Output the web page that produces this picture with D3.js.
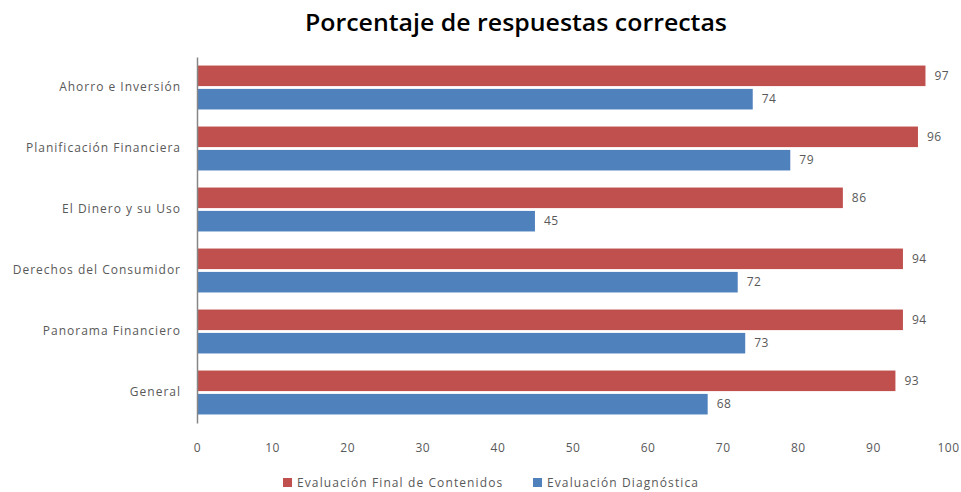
<!DOCTYPE html>
<html>
<head>
<meta charset="utf-8">
<script src="https://cdn.jsdelivr.net/npm/d3@7"></script>
<style>
  body { margin: 0; background: #fff; }
  text { font-family: "Open Sans", "Liberation Sans", sans-serif; }
</style>
</head>
<body>
<div id="chart"></div>
<script>
// categories, top to bottom
var categories = ["Ahorro e Inversión", "Planificación Financiera", "El Dinero y su Uso",
                  "Derechos del Consumidor", "Panorama Financiero", "General"];
var finalValues = [97, 96, 86, 94, 94, 93];
var diagValues = [74, 79, 45, 72, 73, 68];
var seriesNames = ["Evaluación Final de Contenidos", "Evaluación Diagnóstica"];
var xTicks = [0, 10, 20, 30, 40, 50, 60, 70, 80, 90, 100];

var w = 961, h = 492;
var colors = ["#C0504D", "#4F81BD"];

var svg = d3.select("#chart").append("svg")
    .attr("width", w)
    .attr("height", h);

var xScale = d3.scaleLinear().domain([0, 100]).range([197, 948]);
var yScale = d3.scaleBand().domain(categories).range([57, 423]).paddingInner(0.28).paddingOuter(0.14);
var inner = d3.scaleBand().domain([0, 1]).range([0, yScale.bandwidth()]).paddingInner(0.12);

// title
svg.append("text")
    .attr("x", 516)
    .attr("y", 31)
    .attr("text-anchor", "middle")
    .attr("textLength", 422)
    .attr("lengthAdjust", "spacingAndGlyphs")
    .style("font-size", "23px")
    .style("font-weight", "600")
    .style("fill", "#000")
    .text("Porcentaje de respuestas correctas");

var series = [finalValues, diagValues];

series.forEach(function(vals, s) {
    var g = svg.append("g");
    g.selectAll("rect")
        .data(vals)
        .enter()
        .append("rect")
        .attr("x", xScale(0))
        .attr("y", function(d, i) { return yScale(categories[i]) + inner(s); })
        .attr("width", function(d) { return xScale(d) - xScale(0); })
        .attr("height", inner.bandwidth())
        .style("fill", colors[s]);

    g.selectAll("text")
        .data(vals)
        .enter()
        .append("text")
        .attr("x", function(d) { return xScale(d) + 9; })
        .attr("y", function(d, i) { return yScale(categories[i]) + inner(s) + inner.bandwidth() / 2; })
        .attr("dy", "0.35em")
        .style("font-size", "12px")
        .style("letter-spacing", "0.5px")
        .style("fill", "#595959")
        .text(function(d) { return d; });
});

// y axis
var yAxis = d3.axisLeft(yScale).tickSize(0).tickPadding(16);
var yg = svg.append("g")
    .attr("transform", "translate(" + xScale(0) + ",0)")
    .call(yAxis);
yg.select(".domain").attr("stroke", "#868686").attr("stroke-width", 1.5);
yg.selectAll("text")
    .style("font-size", "12px")
    .style("letter-spacing", "1px")
    .style("fill", "#595959")
    .style("font-family", "'Open Sans', sans-serif");

// x axis labels only
var xAxis = d3.axisBottom(xScale).tickValues(xTicks).tickSize(0).tickPadding(0);
var xg = svg.append("g")
    .attr("transform", "translate(0,443)")
    .call(xAxis);
xg.select(".domain").remove();
xg.selectAll("text")
    .style("font-size", "12px")
    .style("letter-spacing", "0.5px")
    .style("fill", "#595959")
    .style("font-family", "'Open Sans', sans-serif");

// legend
var legendX = [283, 533];
var lg = svg.append("g");
seriesNames.forEach(function(name, i) {
    lg.append("rect")
        .attr("x", legendX[i])
        .attr("y", 478)
        .attr("width", 9)
        .attr("height", 9)
        .style("fill", colors[i]);
    lg.append("text")
        .attr("x", legendX[i] + 14)
        .attr("y", 483)
        .attr("dy", "0.35em")
        .style("font-size", "12px")
        .style("letter-spacing", "1.1px")
        .style("fill", "#595959")
        .text(name);
});
</script>
</body>
</html>
